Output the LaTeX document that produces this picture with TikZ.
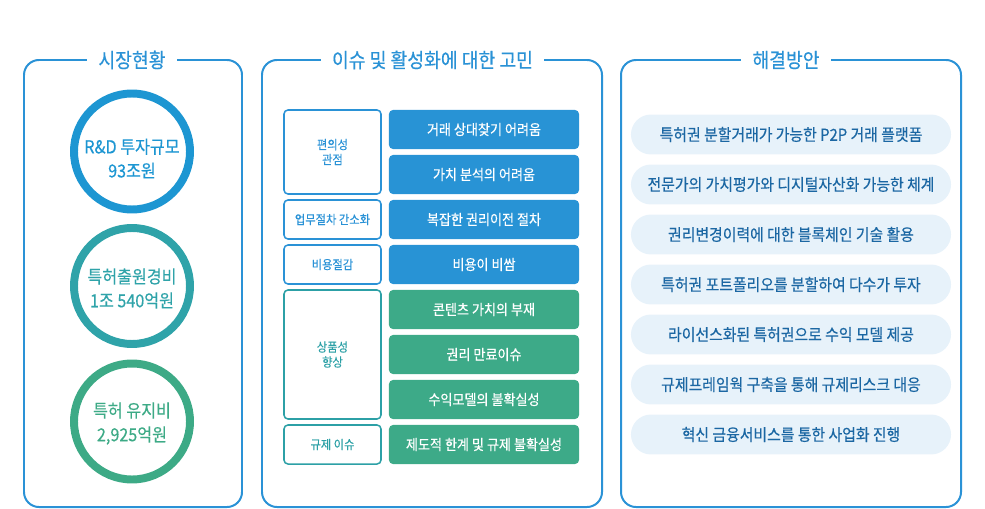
\documentclass[tikz,border=0pt]{standalone}
\usepackage{fontspec}
\setmainfont{Noto Sans CJK KR}[FakeStretch=0.9, FakeBold=0.35]
\usetikzlibrary{positioning}
\definecolor{panelblue}{HTML}{2A92D6}
\definecolor{ringblue}{HTML}{1D96D2}
\definecolor{ringteal}{HTML}{2FA3A9}
\definecolor{ringgreen}{HTML}{3DAA86}
\definecolor{tagteal}{HTML}{2CA0A6}
\definecolor{boxblue}{HTML}{2893D5}
\definecolor{boxgreen}{HTML}{3DAA88}
\definecolor{pillfill}{HTML}{E7F2FA}
\definecolor{pilltext}{HTML}{1B67A3}

\tikzset{
  panel/.style={draw=panelblue, line width=1.7pt, rounded corners=12.8pt},
  paneltitle/.style={fill=white, text=panelblue, inner xsep=9.4pt, inner ysep=2pt,
    font=\fontsize{17.3}{19}\selectfont},
  ring/.style={circle, draw=#1, line width=6.8pt, minimum size=99pt, inner sep=0pt},
  ringtext/.style={text=#1, align=center, inner sep=0pt, font=\fontsize{15.3}{20.5}\selectfont},
  tagbox/.style={draw=#1, text=#1, line width=1.3pt, rounded corners=3.4pt,
    minimum width=82.8pt, align=center, font=\fontsize{10.7}{12.8}\selectfont},
  issuebox/.style={fill=#1, text=white, rounded corners=3.4pt, minimum width=162.2pt,
    minimum height=33.3pt, font=\fontsize{12.4}{13}\selectfont},
  pill/.style={fill=pillfill, text=pilltext, rounded corners=17pt, minimum width=273.2pt,
    minimum height=34.1pt, font=\fontsize{14.1}{15}\selectfont},
}

\begin{document}
\begin{tikzpicture}[x=0.03cm, y=-0.03cm]
  \useasboundingbox (0,0) rectangle (985,509);

    % 패널 테두리
    \draw[panel] (24,60) rectangle (242,507);
    \draw[panel] (262,60) rectangle (602,507);
    \draw[panel] (621,60) rectangle (961,507);

    % 패널 제목
    \node[paneltitle] (mkt-title) at (132,60) {시장현황};
    \node[paneltitle] (issue-title) at (432.5,60) {이슈 및 활성화에 대한 고민};
    \node[paneltitle] (sol-title) at (786,60) {해결방안};

    % 시장현황: 원과 수치
    \node[ring=ringblue] (rd) at (132,151.5) {};
    \node[ring=ringteal] (filing) at (132,286) {};
    \node[ring=ringgreen] (upkeep) at (132,421.5) {};
    \node[ringtext=ringblue] (rd-text) at (132,158.5) {R\&D 투자규모\\93조원};
    \node[ringtext=ringteal] (filing-text) at (132,288.5) {특허출원경비\\1조 540억원};
    \node[ringtext=ringgreen] (upkeep-text) at (132,423.5) {특허 유지비\\2,925억원};

    % 이슈: 왼쪽 분류 상자
    \node[tagbox=panelblue, minimum height=71.7pt] (tag-conv) at (332.5,152) {편의성\\관점};
    \node[tagbox=panelblue, minimum height=33.3pt] (tag-proc) at (332.5,219.5) {업무절차 간소화};
    \node[tagbox=panelblue, minimum height=33.3pt] (tag-cost) at (332.5,264.5) {비용절감};
    \node[tagbox=tagteal, minimum height=110.1pt] (tag-prod) at (332.5,354.5) {상품성\\향상};
    \node[tagbox=tagteal, minimum height=33.3pt] (tag-reg) at (332.5,444.5) {규제 이슈};

    % 이슈: 오른쪽 내용 상자
    \node[issuebox=boxblue] (iss-partner) at (484,129.5) {거래 상대찾기 어려움};
    \node[issuebox=boxblue] (iss-value) at (484,174.5) {가치 분석의 어려움};
    \node[issuebox=boxblue] (iss-transfer) at (484,219.5) {복잡한 권리이전 절차};
    \node[issuebox=boxblue] (iss-cost) at (484,264.5) {비용이 비쌈};
    \node[issuebox=boxgreen] (iss-content) at (484,309.5) {콘텐츠 가치의 부재};
    \node[issuebox=boxgreen] (iss-expire) at (484,354.5) {권리 만료이슈};
    \node[issuebox=boxgreen] (iss-model) at (484,399.5) {수익모델의 불확실성};
    \node[issuebox=boxgreen] (iss-reg) at (484,444.5) {제도적 한계 및 규제 불확실성};

    % 해결방안
    \node[pill] (sol-p2p) at (791,134.5) {특허권 분할거래가 가능한 P2P 거래 플랫폼};
    \node[pill] (sol-eval) at (791,184.5) {전문가의 가치평가와 디지털자산화 가능한 체계};
    \node[pill] (sol-chain) at (791,234.5) {권리변경이력에 대한 블록체인 기술 활용};
    \node[pill] (sol-split) at (791,284.5) {특허권 포트폴리오를 분할하여 다수가 투자};
    \node[pill] (sol-license) at (791,334.5) {라이선스화된 특허권으로 수익 모델 제공};
    \node[pill] (sol-frame) at (791,384.5) {규제프레임웍 구축을 통해 규제리스크 대응};
    \node[pill] (sol-fin) at (791,434.5) {혁신 금융서비스를 통한 사업화 진행};

\end{tikzpicture}
\end{document}
